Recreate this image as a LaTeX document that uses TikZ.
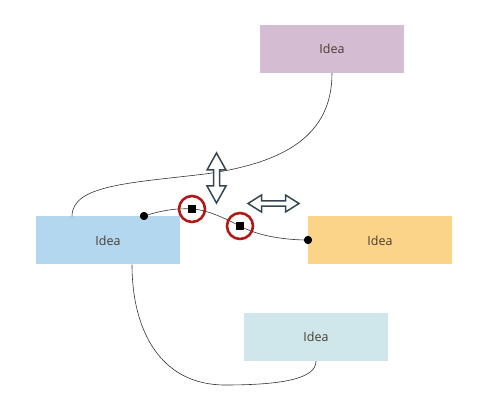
\documentclass[tikz,border=0pt]{standalone}
\usepackage{fontspec}
\setmainfont{Open Sans}
\definecolor{cmauve}{HTML}{D4BCD3}
\definecolor{cblue}{HTML}{B3D7EF}
\definecolor{corange}{HTML}{FBD48A}
\definecolor{cteal}{HTML}{CFE7EA}
\definecolor{ctext}{HTML}{4A3C30}
\definecolor{cred}{HTML}{B01818}
\definecolor{carrow}{HTML}{37474F}
\begin{document}
\begin{tikzpicture}[x=1pt,y=-1pt,
  idea/.style={minimum width=144pt,minimum height=48pt,inner sep=0pt,font=\fontsize{12.5}{15}\selectfont,text=ctext},
  conn/.style={draw=black!80,line width=0.6pt},
  dotpt/.style={circle,fill=black,inner sep=0pt,minimum size=8pt},
  handle/.style={fill=black,inner sep=0pt,minimum size=8pt},
  ring/.style={circle,draw=cred,line width=2.6pt,minimum size=26pt,inner sep=0pt},
  darr/.style={draw=carrow,fill=white,line width=1.5pt,line join=miter}]
\useasboundingbox (0,0) rectangle (504,414);
\node[idea,fill=cmauve] (top) at (332,49) {Idea};
\node[idea,fill=cblue] (left) at (108,240.5) {Idea};
\node[idea,fill=corange] (right) at (380,240.5) {Idea};
\node[idea,fill=cteal] (bot) at (316,337) {Idea};
% connectors
\coordinate (tA) at (top.south);
\coordinate (lA) at ([xshift=-36pt]left.north);
\coordinate (m1) at (205,174);
\draw[conn] (tA) .. controls ++(0,62) and (285,163) .. (m1)
  .. controls (130,183) and (72,185) .. (lA);
\coordinate (lB) at ([xshift=24pt]left.south);
\coordinate (bB) at (bot.south);
\coordinate (m2) at (225,385);
\draw[conn] (lB) .. controls ++(0,65) and (160,385) .. (m2)
  .. controls (285,385) and (316,378) .. (bB);
% handle connector
\node[dotpt] (d1) at (144,216) {};
\node[dotpt] (d2) at (308,240) {};
\node[handle] (h1) at (192,209) {};
\node[handle] (h2) at (240,226) {};
\draw[conn] (d1.center) .. controls (163,210) and (178,208) .. (h1.center)
  .. controls (208,210) and (224,218) .. (h2.center)
  .. controls (258,236) and (285,240) .. (d2.center);
\node[handle] at (h1) {};
\node[handle] at (h2) {};
\node[dotpt] at (d1) {};
\node[dotpt] at (d2) {};
\node[ring] (r1) at (h1) {};
\node[ring] (r2) at (h2) {};
% vertical double arrow, centre (216.5,178)
\draw[darr,shift={(216.5,178)}]
  (0,-25) -- (9.5,-8) -- (3,-8) -- (3,8) -- (9.5,8) -- (0,25)
  -- (-9.5,8) -- (-3,8) -- (-3,-8) -- (-9.5,-8) -- cycle;
% horizontal double arrow, centre (273.5,203.5)
\draw[darr,shift={(273.5,203.5)}]
  (-25.5,0) -- (-12,-8.5) -- (-12,-2.7) -- (12,-2.7) -- (12,-8.5) -- (25.5,0)
  -- (12,8.5) -- (12,2.7) -- (-12,2.7) -- (-12,8.5) -- cycle;
\end{tikzpicture}
\end{document}
